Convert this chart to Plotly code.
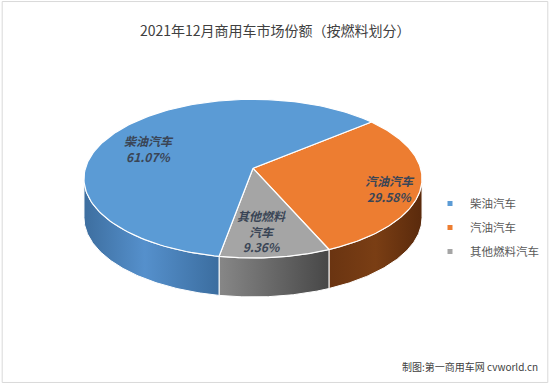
import numpy as np
import plotly.graph_objects as go

# ---- data ----
categories = ["柴油汽车", "汽油汽车", "其他燃料汽车"]
shares = [61.07, 29.58, 9.36]
label_names = ["柴油汽车", "汽油汽车", "其他燃料<br>汽车"]
title_text = "2021年12月商用车市场份额（按燃料划分）"
credit_text = "制图:第一商用车网 cvworld.cn"

# ---- style ----
top_colors = {"柴油汽车": "#5B9BD5", "汽油汽车": "#ED7D31", "其他燃料汽车": "#A5A5A5"}
side_scales = {
    "柴油汽车": [[0, "#3d6e9f"], [0.45, "#5590cc"], [1, "#3b6d9f"]],
    "汽油汽车": [[0, "#6a3411"], [0.5, "#7a3e14"], [1, "#5a2a0c"]],
    "其他燃料汽车": [[0, "#878787"], [1, "#474747"]],
}
draw_order = ["汽油汽车", "其他燃料汽车", "柴油汽车"]  # clockwise from start angle
label_pos = {"柴油汽车": (149, 148), "汽油汽车": (390, 188.5), "其他燃料汽车": (261, 231)}

W, H = 550, 384
# perspective disc geometry (pixels)
X0, Y0, R, Ry, k, depth = 253, 168.3, 167.6, 78.0, 0.1304, 39
start_deg = 40.0

def proj(phi_deg, dy=0.0):
    p = np.radians(phi_deg)
    s, c = np.sin(p), np.cos(p)
    f = 1.0 / (1.0 + k * s)
    return X0 + R * c * f, Y0 - Ry * s * f + dy

total = sum(shares)
val = dict(zip(categories, shares))

fig = go.Figure()
angles = {}
a = start_deg
for c in draw_order:
    sweep = val[c] / total * 360.0
    angles[c] = (a, a - sweep)
    a -= sweep

# visible front side range (silhouette where x is extreme)
sil = np.degrees(np.arcsin(k))
vis = [(-180 + sil, -sil), (-540 + sil, -360 - sil)]

for c in draw_order:
    a1, a2 = angles[c]
    for lo, hi in vis:
        s_hi = min(a1, hi)
        s_lo = max(a2, lo)
        if s_hi > s_lo:
            th = np.linspace(s_hi, s_lo, 90)
            xt, yt = proj(th)
            xb, yb = proj(th[::-1], depth)
            xs = np.concatenate([xt, xb, xt[:1]])
            ys = np.concatenate([yt, yb, yt[:1]])
            fig.add_trace(go.Scatter(
                x=xs, y=ys, mode="lines", fill="toself",
                line=dict(color="white", width=1),
                fillgradient=dict(type="horizontal", colorscale=side_scales[c]),
                hoverinfo="skip", showlegend=False))

# top faces
for c in draw_order:
    a1, a2 = angles[c]
    th = np.linspace(a1, a2, 150)
    xe, ye = proj(th)
    xs = np.concatenate([[X0], xe, [X0]])
    ys = np.concatenate([[Y0], ye, [Y0]])
    fig.add_trace(go.Scatter(
        x=xs, y=ys, mode="lines", fill="toself", fillcolor=top_colors[c],
        line=dict(color="white", width=1.2), name=c,
        hoverinfo="skip", showlegend=False))

# legend entries
for c in categories:
    fig.add_trace(go.Scatter(
        x=[None], y=[None], mode="markers", name=c, legendgroup=c,
        marker=dict(symbol="square", size=5, color=top_colors[c])))

# data labels
for c, ln in zip(categories, label_names):
    x, y = label_pos[c]
    fig.add_annotation(x=x, y=y, xref="x", yref="y", showarrow=False,
                       xanchor="center", yanchor="middle",
                       text=f"<b><i>{ln}<br>{val[c]:.2f}%</i></b>",
                       font=dict(size=12, color="#3a4556"), align="center")

fig.add_annotation(x=0.5, y=1 - 30 / H, xref="paper", yref="paper", showarrow=False,
                   xanchor="center", yanchor="middle",
                   text=title_text, font=dict(size=14, color="#404040"))
fig.add_annotation(x=540 / W, y=1 - 366 / H, xref="paper", yref="paper", showarrow=False,
                   xanchor="right", yanchor="middle",
                   text=credit_text, font=dict(size=10, color="#404040"))

fig.add_shape(type="rect", xref="paper", yref="paper", x0=0.004, y0=0.004, x1=0.996, y1=0.996,
              line=dict(color="#d9d9d9", width=1))

fig.update_layout(
    width=W, height=H, margin=dict(l=0, r=0, t=0, b=0),
    paper_bgcolor="white", plot_bgcolor="white",
    font=dict(family="Noto Sans CJK SC"),
    xaxis=dict(range=[0, W], visible=False, fixedrange=True),
    yaxis=dict(range=[H, 0], visible=False, fixedrange=True),
    legend=dict(x=430 / W, y=1 - 189 / H, xanchor="left", yanchor="top",
                font=dict(size=11.5, color="#595959"), tracegroupgap=5,
                itemwidth=30, bgcolor="rgba(0,0,0,0)"),
    showlegend=True,
    hovermode=False,
)

fig.write_html("out.html", config={"displayModeBar": False},
               post_script="document.body.style.margin='0';")
